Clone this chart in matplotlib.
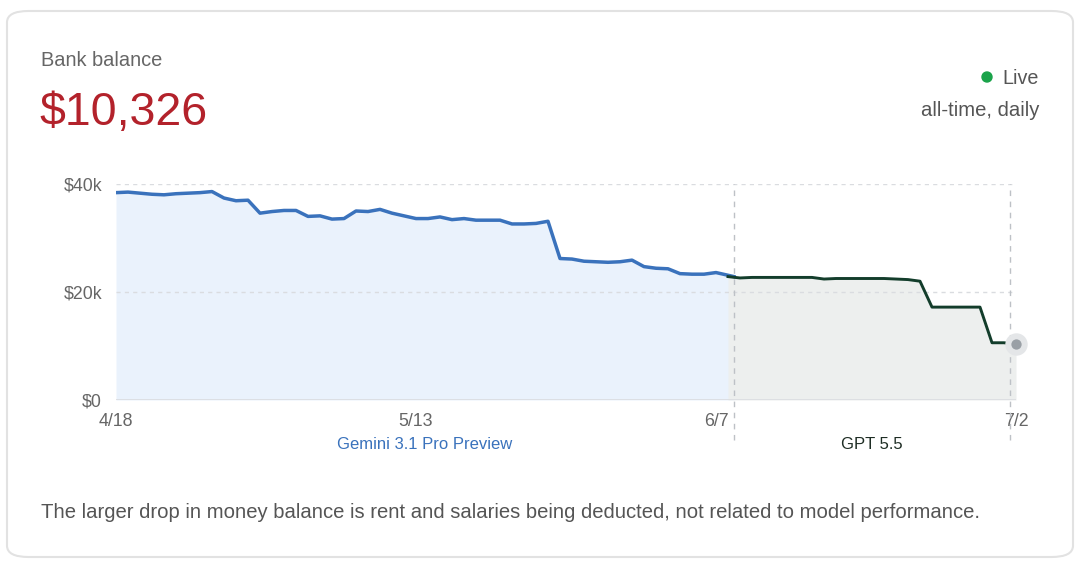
import matplotlib
matplotlib.use('Agg')
import matplotlib.pyplot as plt
import matplotlib.transforms as mtransforms
from matplotlib.patches import FancyBboxPatch, Ellipse
import numpy as np

plt.rcParams['font.family'] = ['Liberation Sans', 'DejaVu Sans']

# daily balance in $k, 4/18 .. 7/2
balance_k = [
    38.4, 38.5, 38.3, 38.1, 38.0, 38.2, 38.3, 38.4, 38.6, 37.4,
    36.9, 37.0, 34.6, 34.9, 35.1, 35.1, 34.0, 34.1, 33.5, 33.6,
    35.0, 34.9, 35.3, 34.6, 34.1, 33.6, 33.6, 33.9, 33.4, 33.6,
    33.3, 33.3, 33.3, 32.6, 32.6, 32.7, 33.1, 26.2, 26.1, 25.7,
    25.6, 25.5, 25.6, 25.9, 24.7, 24.4, 24.3, 23.4, 23.3, 23.3,
    23.6, 23.1, 22.6, 22.7, 22.7, 22.7, 22.7, 22.7, 22.7, 22.4,
    22.5, 22.5, 22.5, 22.5, 22.5, 22.4, 22.3, 22.0, 17.2, 17.2,
    17.2, 17.2, 17.2, 10.6, 10.6, 10.326,
]
tick_days = [0, 25, 50, 75]
tick_labels = ['4/18', '5/13', '6/7', '7/2']
y_ticks = [0, 20000, 40000]
y_labels = ['$0', '$20k', '$40k']
# model periods (day offsets)
switch_day = 51.5
end_day = 74.5
model_names = ['Gemini 3.1 Pro Preview', 'GPT 5.5']
model_colors = ['#3A72BC', '#133D2B']

days = np.arange(len(balance_k))
values = np.array(balance_k) * 1000

fig = plt.figure(figsize=(10.8, 5.67), dpi=100)
fig.patch.set_facecolor('white')

# card outline
card = FancyBboxPatch((7 / 1080, 1 - 557 / 567), 1066 / 1080, 546 / 567,
                      boxstyle='round,pad=0,rounding_size=0.02',
                      transform=fig.transFigure, facecolor='none',
                      edgecolor='#E2E2E2', linewidth=1.5, zorder=-5)
fig.patches.append(card)

ax = fig.add_axes([116 / 1080, 1 - 400 / 567, 900 / 1080, 216 / 567])
ax.set_xlim(0, len(balance_k) - 1)
ax.set_ylim(0, 40000)
ax.patch.set_alpha(0)

# split series at the model switch
sw_val = np.interp(switch_day, days, values)
blue_x = np.append(days[days < switch_day], switch_day)
blue_y = np.append(values[days < switch_day], sw_val)
green_x = np.insert(days[days > switch_day], 0, switch_day)
green_y = np.insert(values[days > switch_day], 0, sw_val)

ax.fill_between(blue_x, blue_y, 0, color='#EAF2FC', lw=0, zorder=1)
ax.fill_between(green_x, green_y, 0, color='#EDEFEE', lw=0, zorder=1)
ax.plot(blue_x, blue_y, color=model_colors[0], lw=2.5, solid_joinstyle='round', zorder=3)
ax.plot(green_x, green_y, color=model_colors[1], lw=2.1, solid_joinstyle='round', zorder=3)

# last point marker
ax.scatter([days[-1]], [values[-1]], s=260, color='#E4E6E8', zorder=4, clip_on=False, lw=0)
ax.scatter([days[-1]], [values[-1]], s=55, color='#9AA0A6', zorder=5, clip_on=False, lw=0)

# grid
for yv in y_ticks[1:]:
    ax.axhline(yv, color='#DADCE0', lw=1.0, ls=(0, (3, 3)), zorder=2)
ax.axhline(0, color='#DADCE0', lw=1.2, zorder=2)

# model period boundaries extending below the axis
trans = mtransforms.blended_transform_factory(ax.transData, ax.transAxes)
for xv in [switch_day, end_day]:
    ax.plot([xv, xv], [-0.185, 1.0], transform=trans, color='#BDC1C6',
            lw=1.0, ls=(0, (4, 4)), clip_on=False, zorder=2)

# model labels
ax.text((0 + switch_day) / 2, -0.205, model_names[0], transform=trans,
        ha='center', va='center', fontsize=12, color=model_colors[0])
ax.text((switch_day + end_day) / 2, -0.205, model_names[1], transform=trans,
        ha='center', va='center', fontsize=12, color='#1E2D24')

ax.set_xticks(tick_days)
ax.set_xticklabels(tick_labels)
ax.set_yticks(y_ticks)
ax.set_yticklabels(y_labels)
ax.tick_params(axis='both', length=0, labelsize=12.8, labelcolor='#666666')
ax.tick_params(axis='y', pad=10)
ax.tick_params(axis='x', pad=9)
for s in ax.spines.values():
    s.set_visible(False)

# header texts
fig.text(41 / 1080, 1 - 61 / 567, 'Bank balance', fontsize=14.4, color='#666666',
         ha='left', va='center')
fig.text(39 / 1080, 1 - 113 / 567, '$10,326', fontsize=33.5, color='#B3222B',
         ha='left', va='center')
fig.text(1039 / 1080, 1 - 79 / 567, 'Live', fontsize=14.2, color='#555555',
         ha='right', va='center')
fig.patches.append(Ellipse((987 / 1080, 1 - 77 / 567), 10 / 1080, 10 / 567,
                           transform=fig.transFigure, color='#1AA34A'))
fig.text(1039 / 1080, 1 - 110 / 567, 'all-time, daily', fontsize=14.6,
         color='#555555', ha='right', va='center')

fig.text(41 / 1080, 1 - 513 / 567,
         'The larger drop in money balance is rent and salaries being deducted, '
         'not related to model performance.',
         fontsize=14.6, color='#555555', ha='left', va='center')

plt.savefig('out.png', dpi=100, facecolor='white')
